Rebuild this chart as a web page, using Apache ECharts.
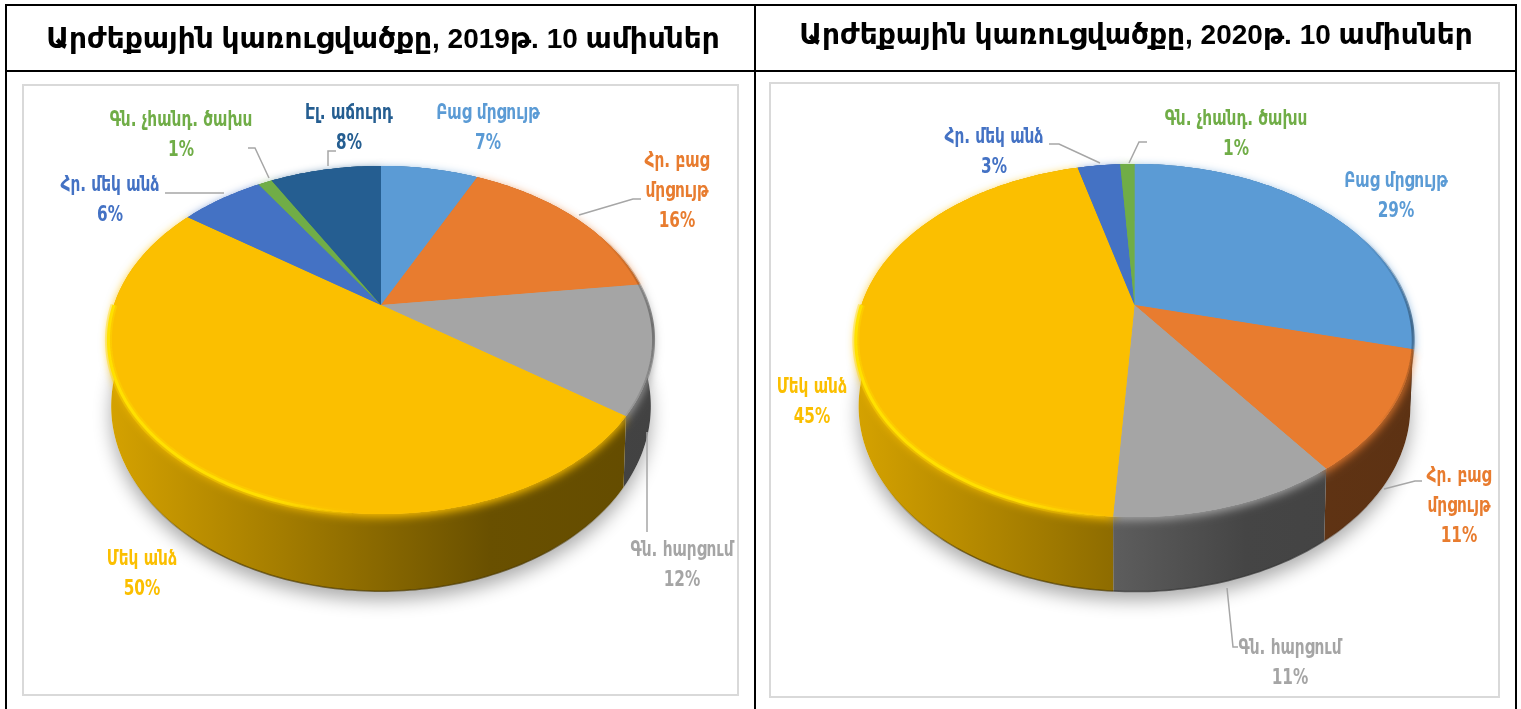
<!DOCTYPE html>
<html>
<head>
<meta charset="utf-8">
<title>Արժեքային կառուցվածքը</title>
<script src="https://cdn.jsdelivr.net/npm/echarts@6/dist/echarts.min.js"></script>
<style>
  html, body { margin: 0; padding: 0; background: #fff; }
  #chart { width: 1521px; height: 709px; }
</style>
</head>
<body>
<div id="chart"></div>
<script>
/* տվյալներ */
var titles = ['Արժեքային կառուցվածքը, 2019թ. 10 ամիսներ', 'Արժեքային կառուցվածքը, 2020թ. 10 ամիսներ'];

var names2019 = ['Բաց մրցույթ', 'Հր. բաց\nմրցույթ', 'Գն. հարցում', 'Մեկ անձ', 'Հր. մեկ անձ', 'Գն. չհանդ. ծախս', 'Էլ. աճուրդ'];
var values2019 = [7, 16, 12, 50, 6, 1, 8];
var colors2019 = ['#5b9bd5', '#e87c2f', '#a5a5a5', '#fbbf00', '#4472c4', '#70ad47', '#255e91'];

var names2020 = ['Բաց մրցույթ', 'Հր. բաց\nմրցույթ', 'Գն. հարցում', 'Մեկ անձ', 'Հր. մեկ անձ', 'Գն. չհանդ. ծախս'];
var values2020 = [29, 11, 11, 45, 3, 1];
var colors2020 = ['#5b9bd5', '#e87c2f', '#a5a5a5', '#fbbf00', '#4472c4', '#70ad47'];

/* պիտակների և ուղղորդ գծերի դիրքերը */
var labelPos2019 = [[488, 129], [677, 192], [682, 566], [142, 575], [110, 201], [181, 136], [349, 129]];
var leaders2019 = [
    null,
    [[579, 215], [633, 199], [641, 199]],
    [[647, 432], [647, 532]],
    null,
    [[165, 193], [224, 193]],
    [[269, 178], [255, 148], [248, 148]],
    [[328, 166], [328, 151], [336, 151]]
];
var labelPos2020 = [[1396, 197], [1459, 507], [1290, 664], [812, 403], [994, 153], [1236, 135]];
var leaders2020 = [
    null,
    [[1384, 489], [1415, 481], [1422, 481]],
    [[1227, 588], [1233, 647], [1238, 647]],
    null,
    [[1049, 144], [1059, 144], [1100, 163]],
    [[1129, 163], [1139, 142], [1147, 142]]
];

/* շրջանի հեռանկարային պատկերը */
var geo2019 = { x: 381, y: 305, a: 267, b: 167, q: 0.201, wallY: 64, wallSX: 0.99, wallSY: 1.063, left: 108, right: 654 };
var geo2020 = { x: 1134.5, y: 305, a: 273, b: 169.4, q: 0.201, wallY: 64, wallSX: 0.99, wallSY: 1.05, left: 856, right: 1413 };

var LABEL_FONT = '"DejaVu Sans Condensed", "DejaVu Sans", sans-serif';
var TITLE_FONT = '"Liberation Sans", "DejaVu Sans", sans-serif';

function rimPoint(geo, deg, lower) {
    var t = deg * Math.PI / 180;
    var u = Math.sin(t), v = -Math.cos(t);
    var w = 1 - geo.q * v;
    var sx = lower ? geo.wallSX : 1;
    var sy = lower ? geo.wallSY : 1;
    var dy = lower ? geo.wallY : 0;
    return [geo.x + sx * geo.a * u / w, geo.y + dy + sy * geo.b * v / w];
}

function arcPoints(geo, from, to, lower) {
    var pts = [];
    var n = Math.max(2, Math.ceil(Math.abs(to - from)));
    for (var i = 0; i <= n; i++) {
        pts.push(rimPoint(geo, from + (to - from) * i / n, lower));
    }
    return pts;
}

function shade(hex, f, alpha) {
    var c = echarts.color.parse(hex);
    return 'rgba(' + Math.min(255, Math.round(c[0] * f)) + ',' + Math.min(255, Math.round(c[1] * f)) + ',' + Math.min(255, Math.round(c[2] * f)) + ',' + (alpha === undefined ? 1 : alpha) + ')';
}

function xGradient(geo, stops) {
    return new echarts.graphic.LinearGradient(geo.left, 0, geo.right, 0, stops, true);
}

function pieSeries(names, values, colors, geo, labelPos, leaders) {
    var total = 0;
    var starts = [];
    for (var i = 0; i < values.length; i++) {
        starts.push(total);
        total += values[i];
    }
    var rows = [];
    for (var j = 0; j < values.length; j++) {
        rows.push({ name: names[j], value: [j, values[j]] });
    }
    return {
        type: 'custom',
        coordinateSystem: 'none',
        silent: true,
        data: rows,
        renderItem: function (params, api) {
            var idx = api.value(0);
            var val = api.value(1);
            var color = colors[idx];
            var from = starts[idx] / total * 360;
            var to = (starts[idx] + val) / total * 360;
            var kids = [];

            /* ստվերը սեղանի վրա */
            if (idx === 0) {
                kids.push({
                    type: 'polygon',
                    z2: 0,
                    shape: { points: arcPoints(geo, 0, 360, true) },
                    style: { fill: '#fff', shadowBlur: 18, shadowColor: 'rgba(0,0,0,0.33)', shadowOffsetY: 9 }
                });
            }

            /* կողային պատ */
            var wall = arcPoints(geo, from, to, false).concat(arcPoints(geo, to, from, true));
            kids.push({
                type: 'polygon',
                z2: 1,
                shape: { points: wall },
                style: {
                    fill: xGradient(geo, [
                        { offset: 0, color: shade(color, 0.85) },
                        { offset: 0.7, color: shade(color, 0.42) },
                        { offset: 1, color: shade(color, 0.4) }
                    ])
                }
            });

            /* պատի ստորին մուգ եզր */
            var c = Math.max(from, 105), d = Math.min(to, 255);
            if (d > c) {
                kids.push({
                    type: 'polyline',
                    z2: 1,
                    shape: { points: arcPoints(geo, c, d, true) },
                    style: {
                        fill: null,
                        lineWidth: 1.5,
                        stroke: xGradient(geo, [
                            { offset: 0.03, color: shade(color, 0.3, 0) },
                            { offset: 0.2, color: shade(color, 0.3, 0.7) },
                            { offset: 0.8, color: shade(color, 0.3, 0.7) },
                            { offset: 0.97, color: shade(color, 0.3, 0) }
                        ])
                    }
                });
            }

            /* վերին մակերես */
            var face = [[geo.x, geo.y]].concat(arcPoints(geo, from, to, false));
            kids.push({
                type: 'polygon',
                z2: 2,
                shape: { points: face },
                style: { fill: color, shadowBlur: 10, shadowColor: color, shadowOffsetY: 3 }
            });
            kids.push({
                type: 'polygon',
                z2: 3,
                shape: { points: face },
                style: { fill: color }
            });

            /* աջ եզրի մգեցում */
            var a = Math.max(from, 62), b = Math.min(to, 128);
            if (b > a) {
                kids.push({
                    type: 'polyline',
                    z2: 4,
                    shape: { points: arcPoints(geo, a, b, false) },
                    style: {
                        fill: null,
                        lineWidth: 3,
                        stroke: new echarts.graphic.LinearGradient(0, geo.y - 70, 0, geo.y + 130, [
                            { offset: 0, color: shade(color, 0.62, 0) },
                            { offset: 0.45, color: shade(color, 0.62, 0.85) },
                            { offset: 1, color: shade(color, 0.62, 0) }
                        ], true)
                    }
                });
            }

            /* ձախ եզրի փայլը */
            var e = Math.max(from, 185), f = Math.min(to, 270);
            if (f > e) {
                var points = arcPoints(geo, e, f, false);
                var glow = [
                    { offset: 0, color: shade(color, 1.18, 1) },
                    { offset: 0.3, color: shade(color, 1.16, 1) },
                    { offset: 0.46, color: shade(color, 1.1, 0) },
                    { offset: 1, color: shade(color, 1.1, 0) }
                ];
                var glowSoft = [
                    { offset: 0, color: shade(color, 1.15, 0.4) },
                    { offset: 0.3, color: shade(color, 1.15, 0.35) },
                    { offset: 0.46, color: shade(color, 1.1, 0) },
                    { offset: 1, color: shade(color, 1.1, 0) }
                ];
                kids.push({
                    type: 'polyline',
                    z2: 4,
                    shape: { points: points },
                    style: { fill: null, lineWidth: 7, stroke: xGradient(geo, glowSoft) }
                });
                kids.push({
                    type: 'polyline',
                    z2: 4,
                    shape: { points: points },
                    style: { fill: null, lineWidth: 3, stroke: xGradient(geo, glow) }
                });
            }

            /* ուղղորդ գիծ */
            if (leaders[idx]) {
                kids.push({
                    type: 'polyline',
                    z2: 5,
                    shape: { points: leaders[idx] },
                    style: { fill: null, stroke: '#a6a6a6', lineWidth: 1.5 }
                });
            }

            /* պիտակ */
            kids.push({
                type: 'text',
                z2: 6,
                x: labelPos[idx][0],
                y: labelPos[idx][1],
                scaleY: 1.2,
                style: {
                    x: 0,
                    y: 0,
                    text: names[idx] + '\n' + val + '%',
                    fill: color,
                    font: 'bold 17px ' + LABEL_FONT,
                    lineHeight: 25,
                    align: 'center',
                    verticalAlign: 'middle'
                }
            });
            return { type: 'group', children: kids };
        }
    };
}

/* աղյուսակի գծերը */
function tableGraphic() {
    var black = { stroke: '#000', lineWidth: 2 };
    var box = { fill: 'none', stroke: '#d9d9d9', lineWidth: 2 };
    return [
        { type: 'line', shape: { x1: 5, y1: 5, x2: 1517, y2: 5 }, style: black },
        { type: 'line', shape: { x1: 5, y1: 71, x2: 1517, y2: 71 }, style: black },
        { type: 'line', shape: { x1: 6, y1: 5, x2: 6, y2: 709 }, style: black },
        { type: 'line', shape: { x1: 755, y1: 5, x2: 755, y2: 709 }, style: black },
        { type: 'line', shape: { x1: 1516, y1: 5, x2: 1516, y2: 709 }, style: black },
        { type: 'rect', shape: { x: 23, y: 85, width: 715, height: 610 }, style: box },
        { type: 'rect', shape: { x: 770, y: 83, width: 729, height: 614 }, style: box }
    ];
}

var myChart = echarts.init(document.getElementById('chart'));
var option = {
    animation: false,
    backgroundColor: '#fff',
    title: [
        {
            text: titles[0], left: 378, top: 21, textAlign: 'center',
            textStyle: { fontFamily: TITLE_FONT, fontWeight: 'bold', fontSize: 28, color: '#000' }
        },
        {
            text: titles[1], left: 1131, top: 17, textAlign: 'center',
            textStyle: { fontFamily: TITLE_FONT, fontWeight: 'bold', fontSize: 28, color: '#000' }
        }
    ],
    graphic: tableGraphic(),
    series: [
        pieSeries(names2019, values2019, colors2019, geo2019, labelPos2019, leaders2019),
        pieSeries(names2020, values2020, colors2020, geo2020, labelPos2020, leaders2020)
    ]
};
myChart.setOption(option);
</script>
</body>
</html>
